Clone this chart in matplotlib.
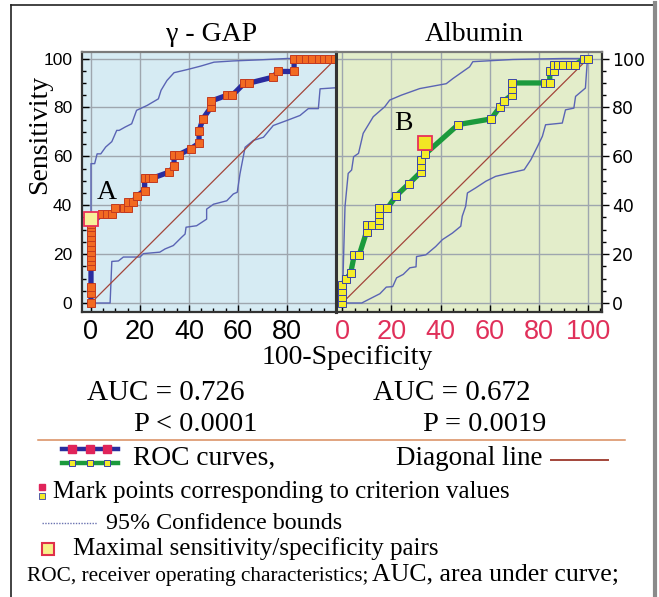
import matplotlib
matplotlib.use("Agg")
import matplotlib.pyplot as plt
from matplotlib.lines import Line2D
from matplotlib.ticker import MultipleLocator

# ---------------- data ----------------
gap_x = [0, 0, 0, 0, 0, 0, 0, 0, 0, 0, 0, 0, 0, 4.5, 6.5, 8.7, 10, 13.5, 15.2, 15.2, 17.2,
         18.6, 21.9, 21.9, 23.7, 25.5, 32, 33.9, 33.9, 35.9, 40.7, 44.1, 44.1, 45.7, 49, 49,
         55.6, 57.7, 62.6, 64.4, 74.4, 76.2, 82.9, 82.9, 85.4, 87.8, 90.3, 92.9, 95.2, 97.3, 99.5]
gap_y = [0, 4, 6.5, 15, 17, 19, 21, 23, 25, 27, 29, 31, 32.5, 36.4, 36.4, 36.4, 38.9, 38.9,
         38.9, 41.2, 41.2, 43.7, 46, 51.2, 51.2, 51.2, 53.6, 55.9, 60.7, 60.7, 63.1, 65.4, 70.3,
         75.4, 80.1, 82.6, 85, 85, 89.9, 89.9, 92.4, 94.7, 94.7, 100, 100, 100, 100, 100, 100,
         100, 100]
gap_max = (0, 34.2)

alb_x = [0, 0, 0, 0, 1.6, 3.4, 4.9, 6.9, 9.9, 9.9, 11.9, 15.1, 15.1, 15.1, 15.1, 18.3, 21.9,
         27.1, 31.9, 31.9, 31.9, 33.7, 47.2, 60.6, 64.2, 65.7, 68.9, 68.9, 68.9, 82.5, 84.4,
         84.4, 86.2, 86.2, 87.9, 89.7, 92.7, 94.7, 98.5, 100]
alb_y = [0, 2.5, 5, 7.4, 9.9, 12.2, 19.7, 19.7, 29.2, 31.7, 31.7, 31.7, 34, 36.3, 38.7, 38.7,
         43.8, 48.8, 53.5, 56, 58.4, 60.9, 73, 75.3, 80.3, 82.6, 85, 87.4, 90, 90, 90, 95, 95,
         97.4, 97.4, 97.4, 97.4, 97.4, 100, 100]
alb_max = (33.7, 65.6)

gap_up_x = [0, 0, 1.5, 2.5, 4, 6, 8.5, 10.5, 11.5, 14, 16.6, 18.6, 22.9, 27.5, 28.6, 31, 33.9,
            39.4, 44.8, 50.2, 58, 70, 80, 100]
gap_up_y = [0, 57, 57, 61, 61, 63.8, 66, 70.6, 70.6, 72, 73.3, 78.8, 80.8, 83.5, 87, 91, 94.2,
            95.5, 96.9, 98.5, 99, 99.5, 100, 100]
gap_lo_x = [0, 7.8, 8.5, 11.2, 13.2, 20, 21.4, 28.1, 30.2, 33.6, 37, 38.4, 38.8, 43.1, 47.2,
            47.2, 50, 55.4, 58.1, 59.7, 60.8, 62.9, 66.3, 70.4, 74.4, 79.8, 85.3, 88.7, 92.8,
            93.5, 99.4, 100, 100]
gap_lo_y = [0, 0, 17, 17.2, 18.8, 18.8, 20.2, 20.8, 22.1, 23.5, 26.9, 28.2, 31, 31.6, 34.3,
            38.4, 40.4, 41.8, 44.6, 45.3, 52.8, 63.7, 66.5, 67.8, 72.6, 74.6, 76.7, 79.5, 79.5,
            87.6, 88, 88, 100]

alb_up_x = [0, 1.1, 2.4, 3.8, 4.6, 6.6, 8.5, 12.6, 17.3, 19.3, 24, 31.5, 42.3, 45, 51.8, 53.1,
            69.4, 89.8, 100]
alb_up_y = [0, 39.4, 53, 54.4, 59.8, 61.2, 69.4, 76.2, 80.3, 83, 85, 87.7, 89.7, 91.8, 96.6,
            98.7, 99.6, 100, 100]
alb_lo_x = [0, 7.9, 11.2, 15.3, 17.9, 20.5, 22.1, 24.8, 27.5, 30, 30.2, 34, 38, 40.7, 44.8,
            48.2, 48.8, 50.2, 50.9, 54.3, 58.4, 62.4, 67.9, 74, 76.7, 79.4, 81.4, 82.7, 89.5,
            90.8, 94.2, 94.9, 98.9, 99.6, 100]
alb_lo_y = [0, 0, 1.7, 3.8, 6.5, 6.7, 10.3, 11.7, 14.4, 14.8, 19, 19.7, 23.1, 25.9, 28.6, 31.4,
            35.5, 39.6, 45, 47.1, 49.8, 51.8, 53.1, 54.5, 58.6, 64, 68.2, 72.9, 73.6, 79, 79.7,
            84.5, 87.9, 98, 100]

gap_xticks = [0, 20, 40, 60, 80]
alb_xticks = [0, 20, 40, 60, 80, 100]
yticks = [0, 20, 40, 60, 80, 100]

titles = ["\u03b3 - GAP", "Albumin"]
auc_text = ["AUC = 0.726", "AUC = 0.672"]
p_text = ["P < 0.0001", "P = 0.0019"]

# ---------------- figure ----------------
W, H = 659, 597
fig = plt.figure(figsize=(W / 100, H / 100), dpi=100)
fig.patch.set_facecolor("white")

SERIF = ["Liberation Serif", "DejaVu Serif"]
SANS = ["Liberation Sans", "DejaVu Sans"]


def fx(px):
    return px / W


def fy(py):
    return 1 - py / H


ax_bottom, ax_top = 312, 52
axL = fig.add_axes([fx(82), fy(ax_bottom), (336 - 82) / W, (ax_bottom - ax_top) / H])
axR = fig.add_axes([fx(336), fy(ax_bottom), (602 - 336) / W, (ax_bottom - ax_top) / H])

ylim = (-3.68, 102.66)
axL.set_xlim(-3.67, 100)
axR.set_xlim(-2.56, 105.65)

grid_c = "#9ea6ae"
ci_c = "#5a64b4"
diag_c = "#a3453a"

panels = [
    (axL, "#d6ebf3", gap_x, gap_y, gap_max, gap_up_x, gap_up_y, gap_lo_x, gap_lo_y,
     "#2a2c9e", "#f26a22", "#c23a20", "#f7f09a", gap_xticks, "black"),
    (axR, "#e3edca", alb_x, alb_y, alb_max, alb_up_x, alb_up_y, alb_lo_x, alb_lo_y,
     "#1b9a3c", "#f4ec2a", "#3a44a8", "#f2e624", alb_xticks, "#e0305a"),
]

for (ax, bg, rx, ry, mx, ux, uy, lx, ly, lc, mfc, mec, maxfc, xt, xtc) in panels:
    ax.set_facecolor(bg)
    ax.set_ylim(*ylim)
    ax.set_xticks(xt)
    ax.set_yticks(yticks)
    ax.xaxis.set_minor_locator(MultipleLocator(5))
    ax.yaxis.set_minor_locator(MultipleLocator(5))
    ax.grid(True, which="major", color=grid_c, lw=1.0, zorder=0)
    ax.set_axisbelow(True)
    ax.plot(ux, uy, color=ci_c, lw=1.0, zorder=2)
    ax.plot(lx, ly, color=ci_c, lw=1.0, zorder=2)
    ax.plot([0, 100], [0, 100], color=diag_c, lw=0.9, zorder=2)
    ax.plot(rx, ry, color=lc, lw=3.8, zorder=3, solid_joinstyle="round")
    ax.plot(rx, ry, ls="none", marker="s", ms=5.2, mfc=mfc, mec=mec, mew=0.7, zorder=4)
    ax.plot([mx[0]], [mx[1]], ls="none", marker="s", ms=10.5, mfc=maxfc, mec="#e8305a",
            mew=1.3, zorder=5)
    for lab in ax.get_xticklabels():
        lab.set_color(xtc)
    ax.tick_params(axis="x", which="both", direction="in", labelsize=19.5, pad=5)
    ax.tick_params(axis="x", which="major", length=5, width=1)
    ax.tick_params(axis="x", which="minor", length=3, width=1)
    for lab in ax.get_xticklabels() + ax.get_yticklabels():
        lab.set_fontfamily(SANS)
    for s in ax.spines.values():
        s.set_linewidth(1.6)
        s.set_color("#333333")
    ax.spines["top"].set_color("#7a7a7a")

# left panel axes styling
axL.tick_params(axis="y", which="both", direction="in", labelsize=12.5, pad=7,
                left=True, right=False)
axL.tick_params(axis="y", which="major", length=5, width=1)
axL.tick_params(axis="y", which="minor", length=3, width=1)
axL.spines["right"].set_linewidth(2.2)

axR.yaxis.tick_right()
axR.tick_params(axis="y", which="both", direction="out", labelsize=12.5, pad=2,
                left=False, right=True)
axR.tick_params(axis="y", which="major", length=5, width=1)
axR.tick_params(axis="y", which="minor", length=3, width=1)
axR.spines["left"].set_linewidth(2.2)
axR.spines["left"].set_color("#333333")

# panel labels A / B
axL.text(2.3, 42.4, "A", family=SERIF, fontsize=20, ha="left", va="baseline", zorder=6)
axR.text(21, 70.7, "B", family=SERIF, fontsize=20, ha="left", va="baseline", zorder=6)

# ---------------- figure texts ----------------
def ftext(px, py, s, size, ha="left", va="baseline", **kw):
    fig.text(fx(px), fy(py), s, fontsize=size, ha=ha, va=va, family=kw.pop("family", SERIF), **kw)


ftext(212, 40.7, titles[0], 20, ha="center")
ftext(474, 40.7, titles[1], 20, ha="center")
fig.text(fx(40), fy(134), "Sensitivity", family=SERIF, fontsize=20, rotation=90,
         ha="center", va="center")
ftext(347, 364, "100-Specificity", 20, ha="center")
ftext(166, 400, auc_text[0], 21, ha="center")
ftext(452, 400, auc_text[1], 21, ha="center")
ftext(196, 431, p_text[0], 20.5, ha="center")
ftext(485, 431, p_text[1], 20.5, ha="center")

ftext(133, 465, "ROC curves,", 19.8)
ftext(396, 465, "Diagonal line", 19.5)
ftext(53, 498.3, "Mark points corresponding to criterion values", 17.9)
ftext(106, 529.3, "95% Confidence bounds", 17.3)
ftext(73, 555, "Maximal sensitivity/specificity pairs", 18)
ftext(27, 580.7, "ROC, receiver operating characteristics;", 15.3)
ftext(372, 580.7, "AUC, area under curve;", 18.5)

# ---------------- decorations (legend glyphs, frame) ----------------
ov2 = fig.add_axes([0, 0, 1, 1], zorder=10)
ov2.set_xlim(0, W)
ov2.set_ylim(H, 0)
ov2.axis("off")
ov2.patch.set_alpha(0)

# frame
ov2.add_line(Line2D([10.5, 10.5], [4.5, H], color="#222222", lw=1.2))
ov2.add_line(Line2D([10.5, 653], [4.5, 4.5], color="#222222", lw=1.2))
ov2.add_line(Line2D([655, 655], [3, H], color="#8a8a8a", lw=3))

# separator line
ov2.add_line(Line2D([38, 625], [439.5, 439.5], color="#d98c5c", lw=1.1))
# ROC curve glyphs
ov2.add_line(Line2D([62, 118], [449, 449], color="#2a2c9e", lw=3.2))
ov2.add_line(Line2D([72, 89.5, 107], [449, 449, 449], ls="none", marker="s", ms=5.5,
                    mfc="#e0245a", mec="#e0245a"))
ov2.add_line(Line2D([62, 118], [463, 463], color="#1b9a3c", lw=3.2))
ov2.add_line(Line2D([72, 89.5, 107], [463, 463, 463], ls="none", marker="s", ms=5,
                    mfc="#f4ec2a", mec="#3a44a8", mew=0.7))
# diagonal glyph
ov2.add_line(Line2D([551, 608], [460, 460], color=diag_c, lw=1.4))
# mark points glyph
ov2.add_line(Line2D([42], [487], ls="none", marker="s", ms=4, mfc="#e0245a", mec="#e0245a"))
ov2.add_line(Line2D([42], [496], ls="none", marker="s", ms=4, mfc="#f4ec2a", mec="#3a44a8",
                    mew=0.6))
# CI glyph
ov2.add_line(Line2D([42, 97], [523, 523], color="#6a72b0", lw=1.0, ls=(0, (1, 1))))
# max pair glyph
ov2.add_line(Line2D([47.5], [549], ls="none", marker="s", ms=9, mfc="#f8f08a", mec="#e0304a",
                    mew=1.5))

fig.savefig("out.png", dpi=100)
